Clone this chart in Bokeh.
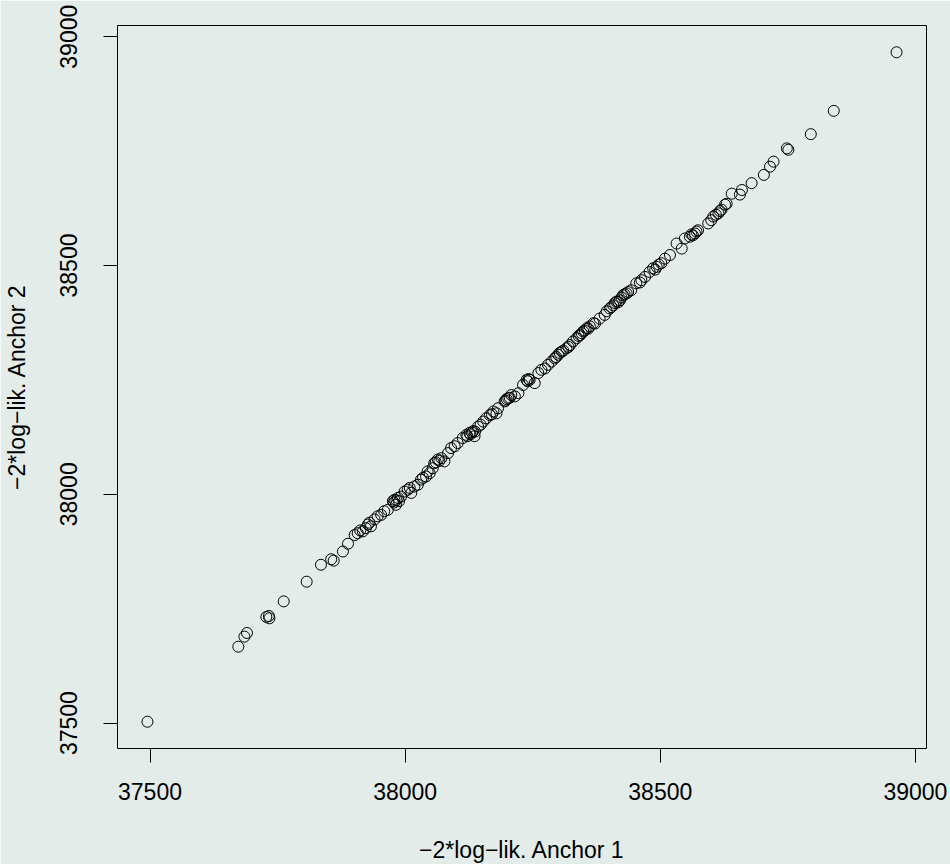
from bokeh.plotting import figure
from bokeh.models import Range1d, FixedTicker, ColumnDataSource
from bokeh.embed import file_html
from bokeh.resources import INLINE

# -2*log-lik values for the two anchors
anchor1 = [
    37495, 37673, 37685, 37690, 37728, 37733, 37734, 37762, 37807, 37835, 37855, 37860, 37878, 37888, 37901,
    37907, 37917, 37923, 37927, 37933, 37940, 37946, 37953, 37959, 37966, 37976, 37979, 37986, 37982, 37992,
    37999, 38005, 38012, 38018, 38025, 38031, 38035, 38041, 38048, 38054, 38057, 38064, 38071, 38077, 38084,
    38090, 38097, 38103, 38113, 38120, 38126, 38133, 38136,
    37912, 37930, 37978, 37983, 37988, 38060, 38067, 38122, 38128, 38131, 38009, 38044,
    38137, 38143, 38153, 38159, 38166, 38173, 38179, 38182, 38195, 38202, 38208, 38215, 38222, 38231, 38238,
    38244, 38254, 38261, 38267, 38274, 38280, 38287, 38293, 38300, 38307, 38316, 38323, 38329, 38336, 38343,
    38349, 38356, 38362, 38369,
    38197, 38199, 38205, 38240, 38242, 38296, 38303, 38310, 38320, 38340, 38346, 38352, 38359, 38148, 38170,
    38372, 38381, 38391, 38401, 38408, 38414, 38421, 38427, 38434, 38443, 38453, 38463, 38470, 38479, 38486,
    38493, 38502, 38509, 38519, 38532, 38542, 38548, 38558, 38564, 38571, 38574, 38594, 38600, 38604,
    38395, 38404, 38411, 38418, 38424, 38430, 38437, 38490, 38497, 38561, 38568, 38460,
    38614, 38620, 38627, 38640, 38656, 38660, 38679, 38703, 38715, 38722, 38748, 38751, 38795, 38840, 38963,
    38609, 38617, 38630,
]
anchor2 = [
    37503, 37667, 37689, 37697, 37732, 37734, 37729, 37766, 37809, 37846, 37858, 37855, 37875, 37892, 37911,
    37915, 37919, 37926, 37934, 37930, 37945, 37952, 37955, 37963, 37966, 37985, 37988, 37992, 37977, 37995,
    38006, 38010, 38003, 38017, 38021, 38032, 38036, 38039, 38046, 38057, 38068, 38076, 38079, 38072, 38090,
    38101, 38105, 38112, 38123, 38130, 38134, 38138, 38127,
    37921, 37938, 37982, 37987, 37985, 38070, 38073, 38127, 38131, 38135, 38014, 38050,
    38137, 38148, 38159, 38166, 38173, 38181, 38177, 38188, 38203, 38210, 38217, 38214, 38221, 38239, 38250,
    38250, 38243, 38265, 38272, 38275, 38283, 38290, 38297, 38305, 38312, 38319, 38326, 38334, 38341, 38348,
    38356, 38363, 38367, 38374,
    38205, 38208, 38211, 38247, 38252, 38300, 38309, 38314, 38322, 38346, 38352, 38358, 38362, 38152, 38175,
    38373, 38384, 38392, 38406, 38413, 38421, 38424, 38435, 38439, 38446, 38461, 38468, 38475, 38486, 38494,
    38497, 38505, 38515, 38523, 38548, 38537, 38559, 38563, 38566, 38574, 38577, 38592, 38599, 38607,
    38400, 38409, 38418, 38420, 38430, 38437, 38442, 38491, 38502, 38568, 38570, 38463,
    38614, 38622, 38633, 38657, 38655, 38665, 38680, 38698, 38716, 38727, 38756, 38753, 38787, 38838, 38966,
    38611, 38619, 38635,
]
tick_values = [37500, 38000, 38500, 39000]
x_label = "\u22122*log\u2212lik. Anchor 1"
y_label = "\u22122*log\u2212lik. Anchor 2"

BG = "#E3ECE9"
FONT = "Liberation Sans"
FS = "23px"


def r_range(vals):
    lo, hi = min(vals), max(vals)
    ext = 0.04 * (hi - lo)
    return Range1d(lo - ext, hi + ext)


p = figure(frame_width=809, frame_height=723, output_backend="svg", toolbar_location=None,
           x_range=r_range(anchor1), y_range=r_range(anchor2),
           min_border_left=108, min_border_right=25, min_border_top=25, min_border_bottom=90)
p.background_fill_color = BG
p.border_fill_color = BG
p.outline_line_color = "black"
p.outline_line_width = 1
p.grid.visible = False

src = ColumnDataSource(dict(x=anchor1, y=anchor2))
p.scatter("x", "y", source=src, marker="circle", size=11, fill_color=None,
          line_color="black", line_width=1)

for ax in (p.xaxis[0], p.yaxis[0]):
    ax.ticker = FixedTicker(ticks=tick_values)
    ax.minor_tick_line_color = None
    ax.axis_line_color = None
    ax.major_tick_in = 0
    ax.major_tick_out = 14
    ax.major_tick_line_color = "black"
    ax.major_tick_line_width = 1
    ax.major_label_text_font = FONT
    ax.major_label_text_font_size = FS
    ax.major_label_text_color = "black"
    ax.axis_label_text_font = FONT
    ax.axis_label_text_font_size = FS
    ax.axis_label_text_font_style = "normal"
    ax.axis_label_text_color = "black"

p.xaxis.axis_label = x_label
p.yaxis.axis_label = y_label
p.yaxis.major_label_orientation = "parallel"
p.xaxis.major_label_standoff = 20
p.xaxis.axis_label_standoff = 34
p.yaxis.major_label_standoff = 26
p.yaxis.axis_label_standoff = 28

open("out.html", "w").write(file_html(p, INLINE))
